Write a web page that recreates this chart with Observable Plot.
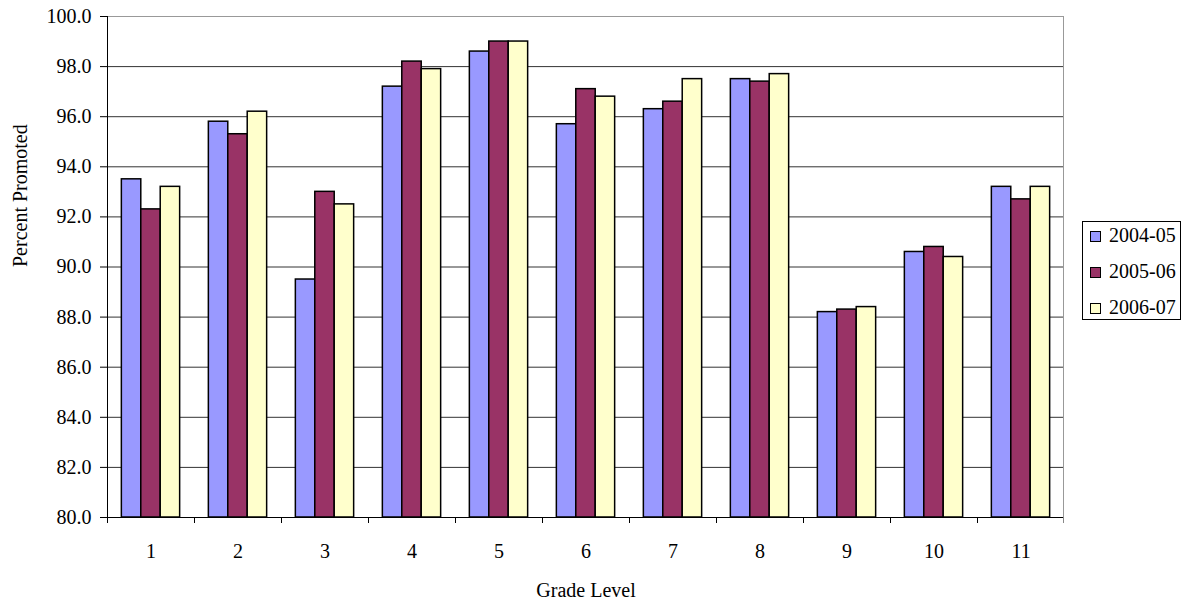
<!DOCTYPE html>
<html>
<head>
<meta charset="utf-8">
<script src="https://cdn.jsdelivr.net/npm/d3@7"></script>
<script src="https://cdn.jsdelivr.net/npm/@observablehq/plot@0.6"></script>
<style>
  html, body { margin: 0; padding: 0; background: #fff; }
  #wrap { position: relative; width: 1187px; height: 601px; font-family: "Liberation Serif", serif; }
  #legend { position: absolute; left: 1082px; top: 221px; width: 99px; height: 99px; border: 1px solid #000; background: #fff; box-sizing: border-box; font-family: "Liberation Serif", serif; font-size: 20px; }
  #legend .row { position: absolute; left: 7px; height: 36px; line-height: 36px; white-space: nowrap; font-family: "Liberation Serif", serif; }
  #legend .sw { display: inline-block; width: 9px; height: 9px; border: 1px solid #000; margin-right: 8px; vertical-align: 0px; }
</style>
</head>
<body>
<div id="wrap"><div id="chart"></div><div id="legend"></div></div>
<script>
const grades = ["1", "2", "3", "4", "5", "6", "7", "8", "9", "10", "11"];
const years = ["2004-05", "2005-06", "2006-07"];
const values0405 = [93.5, 95.8, 89.5, 97.2, 98.6, 95.7, 96.3, 97.5, 88.2, 90.6, 93.2];
const values0506 = [92.3, 95.3, 93.0, 98.2, 99.0, 97.1, 96.6, 97.4, 88.3, 90.8, 92.7];
const values0607 = [93.2, 96.2, 92.5, 97.9, 99.0, 96.8, 97.5, 97.7, 88.4, 90.4, 93.2];
const yTicks = [80, 82, 84, 86, 88, 90, 92, 94, 96, 98, 100];
const colors = ["#9999FF", "#993366", "#FFFFCC"];

const seriesValues = [values0405, values0506, values0607];
const rows = years.map((year, s) => grades.map((grade, i) => ({grade, year, value: seriesValues[s][i]})));

const FONT = "Liberation Serif";
const W = 1187, H = 601;
const ML = 107, MR = 123, MT = 16, MB = 84;
const step = (W - ML - MR) / grades.length;
const groupFrac = 0.67;
const gap = step * (1 - groupFrac) / 2;
const bw = step * groupFrac / years.length;

function frameAndTicks(index, scales, values, dims) {
  const {width, height, marginLeft, marginRight, marginTop, marginBottom} = dims;
  const x0 = marginLeft, x1 = width - marginRight, y0 = marginTop, y1 = height - marginBottom;
  const g = d3.create("svg:g").attr("fill", "none");
  const n = grades.length;
  const st = (x1 - x0) / n;
  g.append("line").attr("x1", x1 - 0.5).attr("x2", x1 - 0.5).attr("y1", y0).attr("y2", y1).attr("stroke", "#999");
  g.append("line").attr("x1", x0 + 0.5).attr("x2", x0 + 0.5).attr("y1", y0).attr("y2", y1).attr("stroke", "#000");
  g.append("line").attr("x1", x0).attr("x2", x1).attr("y1", y1 + 0.5).attr("y2", y1 + 0.5).attr("stroke", "#000");
  for (let i = 0; i <= n; i++) {
    const x = Math.round(x0 + i * st) + 0.5 - (i === n ? 1 : 0);
    g.append("line").attr("x1", x).attr("x2", x).attr("y1", y1).attr("y2", y1 + 6).attr("stroke", i === n ? "#888" : "#000");
  }
  return g.node();
}

const chart = Plot.plot({
  width: W,
  height: H,
  marginLeft: ML,
  marginRight: MR,
  marginTop: MT,
  marginBottom: MB,
  style: {fontFamily: FONT, fontSize: "20px", color: "#000", background: "#fff", overflow: "visible"},
  x: {domain: grades, padding: 0, label: null},
  y: {domain: [80, 100], label: null},
  marks: [
    Plot.ruleY(yTicks.filter(t => t > 80 && t < 100), {stroke: "#333", strokeWidth: 1}),
    Plot.ruleY([100], {stroke: "#999", strokeWidth: 1}),
    ...rows.map((data, s) => Plot.barY(data, {
      x: "grade", y1: 80, y2: "value",
      fill: colors[s], stroke: "#000", strokeWidth: 1.5,
      insetLeft: gap + s * bw, insetRight: gap + (years.length - 1 - s) * bw
    })),
    frameAndTicks,
    Plot.axisY({ticks: yTicks, tickFormat: d => d.toFixed(1), tickSize: 7, tickPadding: 9, label: null, stroke: "#000", fontSize: 20, fontFamily: FONT}),
    Plot.axisX({tickSize: 0, tickPadding: 26, label: null, fontSize: 20, fontFamily: FONT}),
    Plot.text(["Grade Level"], {text: d => d, frameAnchor: "bottom", dy: 73, lineAnchor: "middle", fontSize: 20, fontFamily: FONT}),
    Plot.text(["Percent Promoted"], {text: d => d, frameAnchor: "left", dx: -87, rotate: -90, lineAnchor: "middle", fontSize: 20, fontFamily: FONT})
  ]
});
document.getElementById("chart").appendChild(chart);

const legend = document.getElementById("legend");
years.forEach((y, i) => {
  const row = document.createElement("div");
  row.className = "row";
  row.style.top = (-5 + i * 36) + "px";
  const sw = document.createElement("span");
  sw.className = "sw";
  sw.style.background = colors[i];
  row.appendChild(sw);
  row.appendChild(document.createTextNode(y));
  legend.appendChild(row);
});
</script>
</body>
</html>
